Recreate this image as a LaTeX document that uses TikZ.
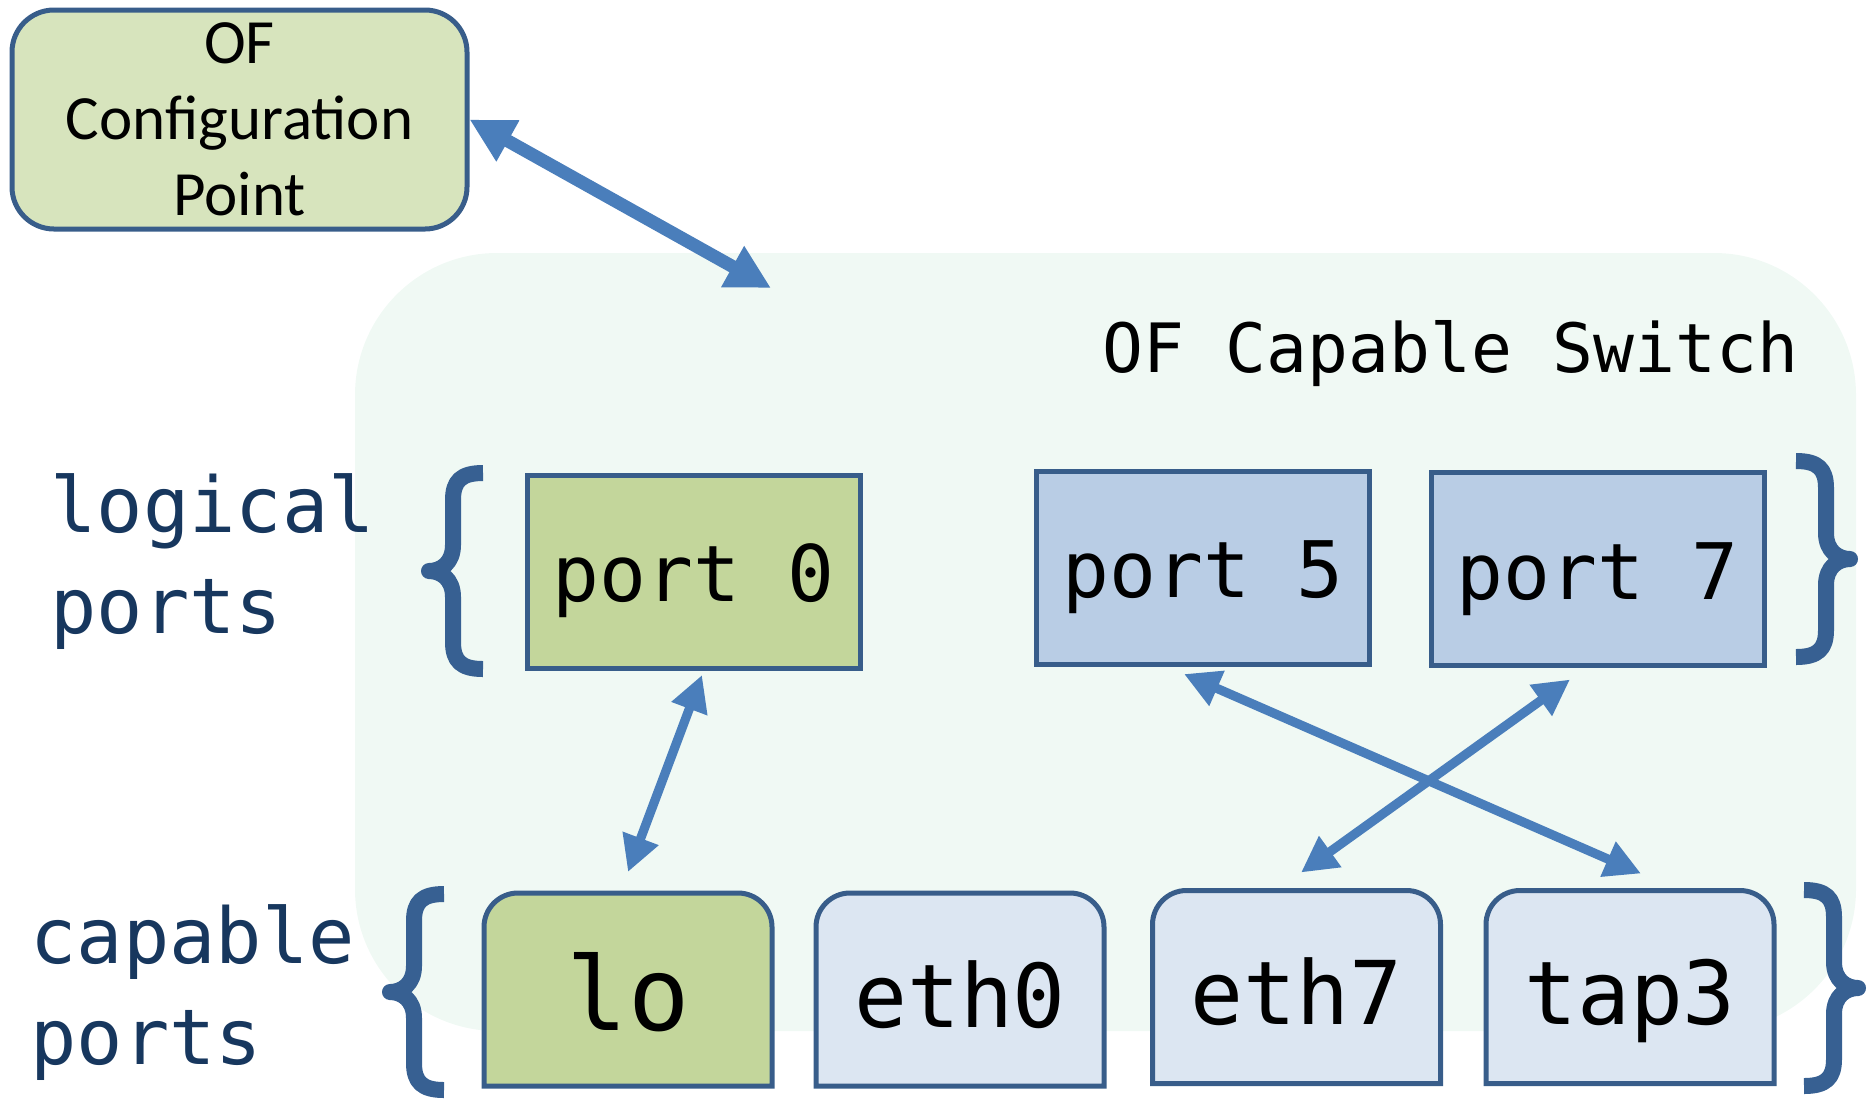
\documentclass[tikz,border=0pt]{standalone}
\usepackage{fontspec}
\setmainfont{Carlito}
\newfontfamily\monof{DejaVu Sans Mono}
\usetikzlibrary{arrows.meta,calc}
\definecolor{bordc}{HTML}{385D8A}
\definecolor{cfgfill}{HTML}{D7E4BD}
\definecolor{grfill}{HTML}{C3D69B}
\definecolor{blfill}{HTML}{B9CDE5}
\definecolor{lbfill}{HTML}{DCE6F2}
\definecolor{swfill}{RGB}{240,249,244}
\definecolor{arrc}{HTML}{4A7EBB}
\definecolor{bracec}{HTML}{376092}
\definecolor{labc}{HTML}{17375E}
\pgfdeclarelayer{bg}
\pgfdeclarelayer{mid}
\pgfsetlayers{bg,mid,main}
\newcommand{\capshape}[2]{%
  \path[draw=bordc, line width=2.5pt, fill=#2] (#1.south west) -- ([yshift=-17pt]#1.north west)
    arc[start angle=180,end angle=90,radius=17pt] -- ([xshift=-17pt]#1.north east)
    arc[start angle=90,end angle=0,radius=17pt] -- (#1.south east) -- cycle;}
\tikzset{
  lport/.style={draw=bordc, line width=2.5pt, minimum width=166.5pt, minimum height=96.5pt,
    inner sep=0pt, outer sep=0pt, text height=30pt, text depth=0pt,
    font=\monof\fontsize{39pt}{47pt}\selectfont},
  cport/.style={minimum width=144pt, minimum height=96.5pt, inner sep=0pt, outer sep=0pt,
    text height=37.5pt, text depth=0pt, font=\monof\fontsize{44pt}{52pt}\selectfont},
  sidelabel/.style={anchor=west, align=left, inner sep=0pt, text=labc,
    font=\monof\fontsize{38.5pt}{50.5pt}\selectfont},
  smallarrow/.style={draw=arrc, line width=4.6pt,
    {Triangle[length=18pt,width=18pt]}-{Triangle[length=18pt,width=18pt]}},
  bigarrow/.style={draw=arrc, line width=6.5pt,
    {Triangle[length=22pt,width=22pt]}-{Triangle[length=22pt,width=22pt]}},
  lbrace/.pic={\draw[bracec, line width=8pt, line join=round]
    (60,8) .. controls (38,8) and (30,16) .. (30,35) -- (30,80)
    .. controls (30,98) and (18,106) .. (6,106)
    .. controls (18,106) and (30,114) .. (30,132) -- (30,177)
    .. controls (30,196) and (38,204) .. (60,204);}
}
\begin{document}
\begin{tikzpicture}[x=0.5pt,y=-0.5pt]
\useasboundingbox (0,0) rectangle (1868,1105);
% switch background
\begin{pgfonlayer}{bg}
\node[fill=swfill, rounded corners=71pt, minimum width=750.5pt, minimum height=389pt,
  inner sep=0pt, outer sep=0pt] (sw) at (1105.5,642) {};
\end{pgfonlayer}
\node[anchor=east, inner sep=0pt, font=\monof\fontsize{34pt}{40pt}\selectfont] (swlabel)
  at (1799,354) {OF Capable Switch};
% config point
\node[draw=bordc, line width=2.5pt, rounded corners=21pt, fill=cfgfill, minimum width=227.5pt,
  minimum height=109.5pt, inner sep=0pt, align=center,
  font=\fontsize{31.5pt}{38pt}\selectfont] (cfg) at (239.5,119.5) {OF\\Configuration\\Point};
% labels
\node[sidelabel] (loglab) at (50,562) {logical\\ports};
\node[sidelabel] (caplab) at (30,993) {capable\\ports};
% braces
\pic at (423,465) {lbrace};
\pic[xscale=-1] at (1856,453) {lbrace};
\pic at (384,886) {lbrace};
\pic[xscale=-1] at (1864,882) {lbrace};
% logical ports
\node[lport, fill=grfill] (p0) at (693.5,571.5) {port 0};
\node[lport, fill=blfill] (p5) at (1203,567.5) {port 5};
\node[lport, fill=blfill] (p7) at (1597.5,569) {port 7};
% capable ports
\node[cport, text height=40.5pt, font=\monof\fontsize{51pt}{60pt}\selectfont] (lo) at (628,989.5) {lo};
\node[cport] (eth0) at (960,989.5) {eth0};
\node[cport] (eth7) at (1296.5,987) {eth7};
\node[cport] (tap3) at (1630,987) {tap3};
\begin{pgfonlayer}{mid}
\capshape{lo}{grfill}
\capshape{eth0}{lbfill}
\capshape{eth7}{lbfill}
\capshape{tap3}{lbfill}
\end{pgfonlayer}
% arrows
\coordinate (swpt) at ($(sw.north west)+(416,35)$);
\draw[bigarrow] (cfg.east) -- (swpt);
\draw[smallarrow] ($(p0.south)+(8.5,7)$) -- ($(lo.north)+(0,-21)$);
\draw[smallarrow] ($(p5.south)+(-19,10)$) -- ($(tap3.north)+(11,-17)$);
\draw[smallarrow] ($(p7.south)+(-27.5,14)$) -- ($(eth7.north)+(4.5,-18)$);
\end{tikzpicture}
\end{document}
